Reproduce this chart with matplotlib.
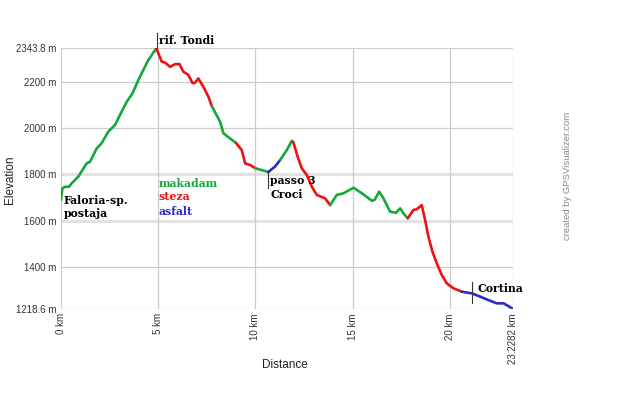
import numpy as np
from matplotlib import pyplot as plt

# profile (km, m)
dist = [0.0, 0.07, 0.2, 0.41, 0.55, 0.89, 1.32, 1.49, 1.84, 2.09, 2.43, 2.78, 3.03, 3.38,
        3.67, 3.98, 4.23, 4.49, 4.9, 5.18, 5.35, 5.61, 5.86, 6.09, 6.29, 6.55, 6.77, 6.89,
        7.06, 7.32, 7.58, 7.75, 8.18, 8.35, 8.69, 9.0, 9.29, 9.47, 9.72, 10.0, 10.66, 11.0,
        11.27, 11.61, 11.87, 11.95, 12.17, 12.38, 12.64, 12.9, 13.15, 13.58, 13.84, 14.18,
        14.52, 15.04, 15.47, 15.98, 16.12, 16.36, 16.58, 16.92, 17.22, 17.44, 17.61, 17.83,
        18.12, 18.29, 18.55, 18.72, 18.89, 19.1, 19.32, 19.58, 19.84, 20.18, 20.62, 21.13,
        21.55, 21.98, 22.41, 22.76, 23.18, 23.2282]
elev = [1689, 1739, 1746, 1746, 1761, 1790, 1847, 1854, 1912, 1934, 1984, 2013, 2056, 2113,
        2149, 2207, 2250, 2293, 2343.8, 2286, 2282, 2264, 2275, 2276, 2243, 2229, 2193, 2195,
        2214, 2178, 2135, 2095, 2027, 1977, 1955, 1935, 1905, 1847, 1840, 1826, 1810, 1833,
        1862, 1905, 1945, 1938, 1876, 1826, 1797, 1746, 1711, 1696, 1667, 1711,
        1718, 1742, 1718, 1686, 1689, 1725, 1696, 1639, 1634, 1653, 1631, 1610,
        1646, 1649, 1667, 1603, 1531, 1466, 1416, 1365, 1329, 1308, 1293, 1286,
        1272, 1257, 1243, 1243, 1222, 1218.6]

# surface type per stretch: (from km, to km, type)
segments = [(0.0, 4.9, 'makadam'), (4.9, 7.75, 'steza'), (7.75, 9.0, 'makadam'),
            (9.0, 10.0, 'steza'), (10.0, 10.66, 'makadam'), (10.66, 11.27, 'asfalt'),
            (11.27, 11.95, 'makadam'), (11.95, 13.84, 'steza'), (13.84, 17.83, 'makadam'),
            (17.83, 20.62, 'steza'), (20.62, 23.2282, 'asfalt')]
surface_names = ['makadam', 'steza', 'asfalt']
surface_colors = {'makadam': '#14a83a', 'steza': '#f01010', 'asfalt': '#2a2ac8'}

# waypoints: (km, elevation of marker line top, bottom, label)
waypoints = [(4.92, 2410, 2343.8, 'rif. Tondi'), (10.66, 1810, 1741, 'passo 3\nCroci'),
             (21.13, 1334, 1243, 'Cortina')]

xticks = [0, 5, 10, 15, 20, 23.2282]
xticklabels = ['0 km', '5 km', '10 km', '15 km', '20 km', '23.2282 km']
yticks = [1218.6, 1400, 1600, 1800, 2000, 2200, 2343.8]
yticklabels = ['1218.6 m', '1400 m', '1600 m', '1800 m', '2000 m', '2200 m', '2343.8 m']

dist = np.array(dist)
elev = np.array(elev)

fig = plt.figure(figsize=(6.4, 3.96), dpi=100)
ax = fig.add_axes([0.0953, 0.2197, 0.8012 - 0.0953, 0.878 - 0.2197])

for y in yticks:
    if y in (1600, 1800):
        ax.axhline(y, color='#e2e2e2', lw=2.2, zorder=0)
    else:
        ax.axhline(y, color='#cccccc', lw=0.9, zorder=0)
for x in xticks:
    ax.axvline(x, color='#cccccc', lw=0.9, zorder=0)

for start, end, kind in segments:
    m = (dist >= start - 1e-9) & (dist <= end + 1e-9)
    ax.plot(dist[m], elev[m], color=surface_colors[kind], lw=1.9,
            solid_capstyle='round', solid_joinstyle='round', zorder=3)

ax.set_xlim(0, 23.2282)
ax.set_ylim(1218.6, 2343.8)
for s in ax.spines.values():
    s.set_visible(False)
ax.set_xticks(xticks)
ax.set_xticklabels(xticklabels, rotation=90, fontsize=7, color='#333333', family='Liberation Sans')
ax.set_yticks(yticks)
ax.set_yticklabels(yticklabels, fontsize=7, color='#333333', family='Liberation Sans')
ax.tick_params(length=0, pad=3)

serif = dict(family='DejaVu Serif', fontweight='bold', fontsize=7.8)

# waypoint markers
for km, top, bottom, label in waypoints:
    ax.plot([km, km], [bottom, top], color='#333333', lw=0.8, zorder=4, clip_on=False)
ax.text(5.06, 2377, 'rif. Tondi', va='center', ha='left', color='black', clip_on=False, **serif)
ax.text(10.76, 1795, 'passo 3\nCroci', va='top', ha='left', color='black', linespacing=1.25, **serif)
ax.text(21.4, 1305, 'Cortina', va='center', ha='left', color='black', **serif)
ax.text(0.15, 1712, 'Faloria-sp.\npostaja', va='top', ha='left', color='black', linespacing=1.25, **serif)

# surface legend
for i, name in enumerate(surface_names):
    ax.text(5.0, [1762, 1706, 1641][i], name, va='center', ha='left',
            color=surface_colors[name], **serif)

fig.text(10 / 640, 1 - 180 / 396, 'Elevation', rotation=90, va='center', ha='center',
         fontsize=8.5, family='Liberation Sans', color='#222222')
fig.text(285 / 640, 1 - 365 / 396, 'Distance', va='center', ha='center',
         fontsize=8.5, family='Liberation Sans', color='#222222')
fig.text(568 / 640, 1 - 176 / 396, 'created by GPSVisualizer.com', rotation=90, va='center',
         ha='center', fontsize=6.8, family='Liberation Sans', color='#888888')

fig.savefig('out.png', dpi=100)
